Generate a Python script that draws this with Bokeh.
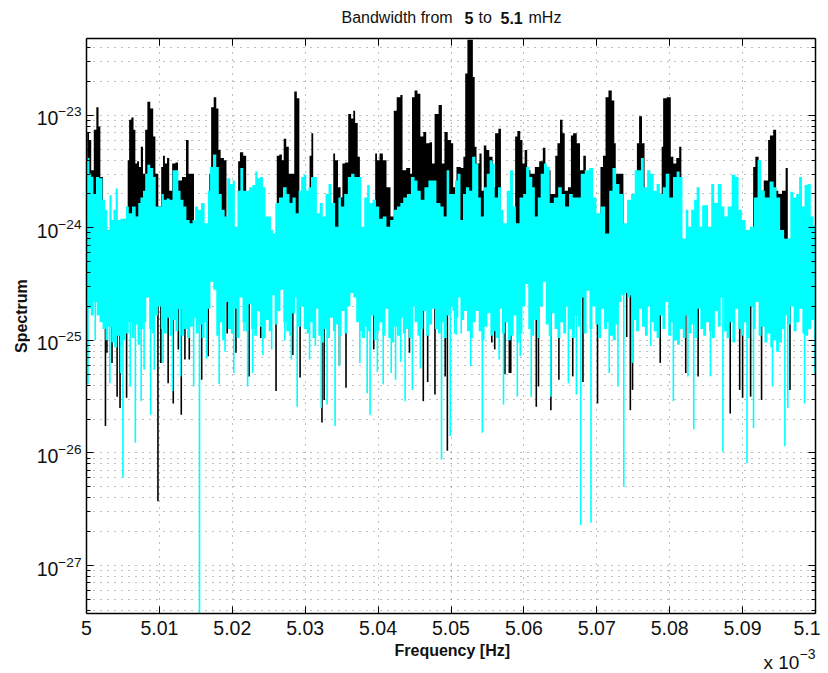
import numpy as np
from bokeh.plotting import figure
from bokeh.embed import file_html
from bokeh.layouts import column, row
from bokeh.resources import INLINE
from bokeh.models import FixedTicker, LinearAxis, LogTickFormatter, Label, Range1d, CustomJSTickFormatter

x_ticks = [5, 5.01, 5.02, 5.03, 5.04, 5.05, 5.06, 5.07, 5.08, 5.09, 5.1]
x_tick_labels = ["5", "5.01", "5.02", "5.03", "5.04", "5.05", "5.06", "5.07", "5.08", "5.09", "5.1"]
y_decades = [1e-27, 1e-26, 1e-25, 1e-24, 1e-23]
y_limits = [3.75e-28, 4.8e-23]

# Upper envelope of the black spectrum: offset frequency above 5 and log10(value)
black_top_df = [.0000,.0002,.0005,.0008,.0012,.0015,.0018,.0020,.0025,.0056,.0057,.0060,.0063,.0066,.0068,.0071,.0073,.0076,.0079,.0082,.0085,.0090,.0093,.0096,.0101,.0104,.0106,.0109,.0112,.0115,.0120,.0124,.0127,.0135,.0138,.0142,.0147,.0148,.0168,.0169,.0173,.0176,.0180,.0182,.0186,.0191,.0193,.0207,.0209,.0212,.0218,.0220,.0260,.0262,.0267,.0269,.0272,.0276,.0279,.0284,.0286,.0291,.0293,.0305,.0307,.0310,.0312,.0338,.0339,.0343,.0347,.0350,.0352,.0357,.0361,.0365,.0367,.0370,.0374,.0376,.0395,.0397,.0400,.0404,.0409,.0414,.0420,.0423,.0428,.0433,.0434,.0443,.0445,.0448,.0452,.0456,.0460,.0464,.0468,.0473,.0475,.0480,.0486,.0489,.0493,.0498,.0502,.0504,.0511,.0516,.0518,.0521,.0524,.0528,.0532,.0533,.0537,.0541,.0543,.0547,.0550,.0555,.0559,.0562,.0568,.0569,.0587,.0589,.0593,.0597,.0599,.0603,.0606,.0612,.0618,.0624,.0628,.0631,.0642,.0644,.0648,.0651,.0655,.0657,.0664,.0665,.0670,.0675,.0679,.0684,.0686,.0703,.0707,.0710,.0714,.0718,.0723,.0725,.0727,.0735,.0738,.0754,.0756,.0760,.0764,.0767,.0788,.0790,.0792,.0800,.0803,.0807,.0811,.0815,.0817,.0914,.0915,.0920,.0924,.0934,.0936,.0939,.0945,.0947,.0951,.0957,.0961,.0963,.1000]
black_top_log = [-23.43,-23.15,-23.22,-23.49,-23.13,-22.93,-23.10,-23.55,-24.30,-24.30,-23.40,-23.04,-23.02,-23.13,-23.43,-23.41,-23.46,-23.28,-23.52,-23.13,-22.88,-22.94,-23.19,-23.52,-23.81,-23.46,-23.36,-23.43,-23.38,-23.67,-23.43,-23.42,-23.58,-23.55,-23.22,-23.52,-23.52,-24.30,-24.30,-23.52,-22.93,-22.84,-22.94,-23.31,-23.38,-23.40,-24.30,-24.30,-23.41,-23.33,-23.36,-24.30,-24.30,-23.36,-23.35,-23.40,-23.21,-23.28,-23.52,-23.52,-22.79,-22.85,-24.30,-24.30,-23.36,-23.16,-24.30,-24.30,-23.34,-23.40,-23.64,-23.73,-23.43,-23.42,-22.99,-23.03,-22.96,-23.07,-23.37,-24.30,-24.30,-23.34,-23.40,-23.34,-23.40,-23.64,-23.90,-22.96,-22.84,-22.82,-23.49,-23.47,-23.52,-22.84,-22.78,-22.81,-23.19,-23.15,-23.25,-23.24,-23.43,-22.99,-22.91,-23.43,-23.15,-23.22,-23.25,-23.64,-23.46,-23.47,-23.37,-22.63,-22.33,-22.33,-22.66,-23.28,-23.43,-23.34,-23.67,-23.27,-23.31,-23.37,-23.64,-23.16,-23.12,-24.30,-24.30,-23.19,-23.14,-23.22,-23.43,-23.31,-23.49,-23.52,-23.46,-23.41,-23.29,-23.49,-23.70,-23.36,-23.25,-23.04,-23.16,-23.67,-23.64,-23.18,-23.16,-23.25,-23.49,-23.36,-24.30,-24.30,-23.46,-23.36,-22.84,-22.78,-22.87,-23.25,-23.52,-23.52,-24.30,-24.30,-23.25,-23.01,-23.25,-24.30,-24.30,-23.28,-22.85,-22.84,-23.37,-23.43,-23.38,-23.28,-24.30,-24.30,-23.46,-23.37,-23.67,-23.58,-23.22,-23.18,-23.13,-23.67,-23.70,-23.67,-23.47,-24.14,-24.14]

# Upper envelope of the cyan spectrum
cyan_top_df = [.0000,.0003,.0005,.0008,.0011,.0015,.0020,.0024,.0027,.0030,.0033,.0036,.0038,.0042,.0044,.0049,.0052,.0056,.0060,.0065,.0070,.0072,.0076,.0079,.0082,.0085,.0090,.0093,.0097,.0102,.0104,.0108,.0112,.0116,.0120,.0125,.0127,.0131,.0135,.0139,.0144,.0147,.0151,.0155,.0159,.0165,.0168,.0171,.0176,.0180,.0183,.0188,.0191,.0195,.0199,.0202,.0205,.0209,.0213,.0217,.0221,.0225,.0230,.0233,.0236,.0240,.0244,.0247,.0251,.0255,.0257,.0261,.0267,.0272,.0277,.0280,.0285,.0289,.0293,.0296,.0300,.0303,.0306,.0310,.0314,.0318,.0322,.0326,.0330,.0334,.0338,.0344,.0347,.0351,.0356,.0361,.0365,.0370,.0375,.0379,.0383,.0387,.0390,.0395,.0399,.0404,.0409,.0414,.0419,.0423,.0429,.0432,.0437,.0442,.0448,.0452,.0456,.0461,.0466,.0472,.0477,.0483,.0488,.0492,.0496,.0499,.0504,.0507,.0511,.0515,.0518,.0523,.0527,.0531,.0536,.0539,.0543,.0547,.0551,.0555,.0558,.0562,.0567,.0570,.0574,.0579,.0583,.0587,.0591,.0597,.0601,.0605,.0610,.0613,.0617,.0621,.0625,.0630,.0633,.0638,.0644,.0650,.0654,.0659,.0665,.0669,.0675,.0681,.0686,.0693,.0697,.0702,.0708,.0715,.0719,.0724,.0729,.0733,.0739,.0744,.0750,.0754,.0759,.0762,.0767,.0771,.0776,.0780,.0784,.0789,.0792,.0797,.0802,.0807,.0812,.0815,.0820,.0824,.0827,.0832,.0835,.0839,.0843,.0846,.0850,.0855,.0859,.0863,.0869,.0873,.0877,.0882,.0888,.0892,.0897,.0901,.0907,.0913,.0918,.0923,.0928,.0933,.0941,.0944,.0949,.0954,.0960,.0964,.0967,.0972,.0975,.0980,.0983,.0987,.0992,.0995,.1000]
cyan_top_log = [-23.40,-23.38,-23.52,-23.55,-23.70,-23.55,-23.56,-23.75,-23.84,-24.02,-23.71,-23.93,-23.84,-23.65,-23.93,-23.92,-23.92,-23.81,-23.87,-23.81,-23.90,-23.78,-23.73,-23.67,-23.52,-23.44,-23.47,-23.55,-23.81,-23.81,-23.70,-23.75,-23.74,-23.75,-23.49,-23.49,-23.67,-23.75,-23.81,-23.93,-23.96,-23.93,-23.81,-23.84,-23.78,-23.96,-23.67,-23.46,-23.35,-23.46,-23.70,-23.84,-23.90,-23.56,-23.61,-23.58,-23.99,-23.67,-23.47,-23.67,-23.67,-23.64,-23.62,-23.50,-23.56,-23.55,-23.64,-23.90,-23.90,-24.02,-24.05,-23.78,-23.73,-23.64,-23.70,-23.78,-23.73,-23.87,-23.67,-23.55,-23.53,-23.67,-23.64,-23.55,-23.55,-23.87,-23.78,-23.90,-23.70,-23.61,-23.78,-23.99,-23.73,-23.81,-23.70,-23.55,-23.52,-23.55,-23.55,-23.99,-23.73,-23.62,-23.78,-23.75,-23.81,-23.92,-23.90,-23.99,-23.93,-23.84,-23.81,-23.78,-23.73,-23.70,-23.55,-23.58,-23.67,-23.75,-23.64,-23.58,-23.58,-23.78,-23.81,-23.90,-23.49,-23.70,-23.70,-23.58,-23.52,-23.93,-23.70,-23.64,-23.67,-23.37,-23.43,-23.73,-23.90,-23.64,-23.52,-23.40,-23.43,-23.73,-23.64,-23.84,-23.96,-23.67,-23.49,-23.81,-23.96,-23.73,-23.70,-23.46,-23.55,-23.64,-23.90,-23.73,-23.52,-23.43,-23.46,-23.78,-23.73,-23.64,-23.70,-23.81,-23.70,-23.73,-23.73,-23.52,-23.49,-23.47,-23.73,-23.87,-23.81,-24.05,-23.67,-23.47,-23.61,-23.70,-23.96,-23.75,-23.70,-23.49,-23.49,-23.38,-23.64,-23.49,-23.52,-23.67,-23.61,-23.70,-23.64,-23.52,-23.73,-23.55,-23.50,-23.55,-24.11,-23.84,-23.99,-23.84,-23.75,-23.64,-23.99,-23.80,-23.80,-23.99,-23.61,-23.78,-23.61,-23.81,-23.90,-23.81,-23.53,-23.55,-23.84,-23.93,-24.02,-23.99,-23.73,-23.40,-23.67,-23.73,-23.59,-23.64,-23.73,-24.02,-24.14,-24.23,-23.68,-23.73,-23.70,-23.55,-23.81,-23.62,-23.61,-23.90,-23.98]

# Lower edge of the solid cyan mass
cyan_low_df = [.0000,.0004,.0008,.0012,.0016,.0020,.0024,.0028,.0032,.0036,.0040,.0044,.0048,.0052,.0056,.0060,.0064,.0068,.0072,.0076,.0080,.0084,.0088,.0092,.0096,.0100,.0104,.0108,.0112,.0116,.0120,.0124,.0128,.0132,.0136,.0140,.0144,.0148,.0152,.0156,.0160,.0164,.0168,.0172,.0176,.0180,.0184,.0188,.0192,.0196,.0200,.0204,.0208,.0212,.0216,.0220,.0224,.0228,.0232,.0236,.0240,.0244,.0248,.0252,.0256,.0260,.0264,.0268,.0272,.0276,.0280,.0284,.0288,.0292,.0296,.0300,.0304,.0308,.0312,.0316,.0320,.0324,.0328,.0332,.0336,.0340,.0344,.0348,.0352,.0356,.0360,.0364,.0368,.0372,.0376,.0380,.0384,.0388,.0392,.0396,.0400,.0404,.0408,.0412,.0416,.0420,.0424,.0428,.0432,.0436,.0440,.0444,.0448,.0452,.0456,.0460,.0464,.0468,.0472,.0476,.0480,.0484,.0488,.0492,.0496,.0500,.0504,.0508,.0512,.0516,.0520,.0524,.0528,.0532,.0536,.0540,.0544,.0548,.0552,.0556,.0560,.0564,.0568,.0572,.0576,.0580,.0584,.0588,.0592,.0596,.0600,.0604,.0608,.0612,.0616,.0620,.0624,.0628,.0632,.0636,.0640,.0644,.0648,.0652,.0656,.0660,.0664,.0668,.0672,.0676,.0680,.0684,.0688,.0692,.0696,.0700,.0704,.0708,.0712,.0716,.0720,.0724,.0728,.0732,.0736,.0740,.0744,.0748,.0752,.0756,.0760,.0764,.0768,.0772,.0776,.0780,.0784,.0788,.0792,.0796,.0800,.0804,.0808,.0812,.0816,.0820,.0824,.0828,.0832,.0836,.0840,.0844,.0848,.0852,.0856,.0860,.0864,.0868,.0872,.0876,.0880,.0884,.0888,.0892,.0896,.0900,.0904,.0908,.0912,.0916,.0920,.0924,.0928,.0932,.0936,.0940,.0944,.0948,.0952,.0956,.0960,.0964,.0968,.0972,.0976,.0980,.0984,.0988,.0992,.0996,.1000]
cyan_low_log = [-25.00,-24.72,-24.78,-24.66,-24.78,-24.84,-24.90,-25.00,-24.88,-25.02,-25.06,-24.96,-25.04,-25.00,-24.94,-24.84,-24.98,-24.86,-25.04,-24.90,-24.84,-24.62,-24.90,-24.94,-24.78,-24.70,-24.90,-24.94,-24.80,-24.96,-24.82,-24.92,-24.72,-24.96,-24.90,-24.98,-24.88,-24.80,-24.94,-24.86,-24.98,-24.84,-24.72,-24.48,-24.55,-24.96,-24.84,-25.00,-24.66,-24.90,-24.94,-24.72,-24.98,-24.62,-24.84,-24.92,-24.68,-24.90,-24.96,-24.74,-24.88,-24.98,-24.82,-24.92,-24.60,-24.86,-24.74,-24.55,-24.84,-24.92,-24.96,-24.76,-24.62,-24.88,-24.70,-24.90,-24.94,-24.84,-24.98,-24.72,-24.96,-25.02,-24.90,-24.98,-24.80,-24.92,-24.86,-24.96,-24.74,-24.94,-24.70,-24.58,-24.62,-24.84,-24.92,-24.98,-24.88,-24.92,-24.78,-25.00,-24.92,-24.84,-24.96,-24.72,-24.98,-25.02,-24.88,-24.96,-24.80,-24.94,-24.90,-24.98,-24.70,-24.84,-24.96,-24.90,-24.74,-24.96,-24.86,-24.72,-24.90,-24.94,-24.84,-24.98,-24.78,-24.70,-24.74,-24.80,-24.62,-24.82,-24.74,-24.92,-24.98,-24.84,-24.74,-24.92,-25.00,-24.88,-24.76,-24.96,-24.92,-24.98,-24.72,-24.94,-24.84,-25.00,-24.96,-24.78,-25.02,-24.94,-24.70,-24.50,-24.90,-24.96,-24.82,-24.98,-24.70,-24.48,-24.86,-24.96,-24.76,-24.90,-24.98,-24.84,-24.94,-24.70,-24.90,-24.98,-24.78,-24.88,-24.62,-24.94,-24.56,-24.90,-24.70,-24.86,-24.98,-24.72,-24.90,-24.84,-24.96,-25.00,-24.86,-24.66,-24.60,-24.58,-24.62,-24.60,-24.82,-24.92,-24.72,-24.88,-24.96,-24.70,-24.84,-24.92,-24.98,-24.78,-24.90,-24.66,-24.96,-24.84,-25.00,-25.04,-24.90,-24.98,-24.78,-24.94,-24.86,-24.98,-24.72,-24.90,-24.96,-24.84,-24.92,-24.98,-24.74,-24.88,-24.62,-24.92,-24.98,-24.84,-25.02,-24.72,-24.90,-24.96,-24.84,-24.98,-24.70,-24.90,-24.66,-24.96,-24.88,-25.02,-24.94,-25.06,-25.00,-25.10,-25.02,-24.90,-24.78,-24.86,-24.70,-24.92,-24.84,-24.72,-24.94,-24.96,-24.90,-24.82,-25.20]

# Downward spikes of each spectrum
cyan_spike_df = [.0002,.0012,.0032,.0050,.0047,.0060,.0067,.0075,.0079,.0088,.0093,.0105,.0118,.0129,.0147,.0155,.0165,.0182,.0190,.0202,.0216,.0221,.0228,.0242,.0254,.0272,.0281,.0289,.0306,.0314,.0322,.0330,.0341,.0347,.0375,.0385,.0389,.0399,.0407,.0418,.0424,.0431,.0437,.0447,.0458,.0487,.0499,.0507,.0505,.0514,.0527,.0543,.0566,.0572,.0591,.0595,.0610,.0637,.0661,.0672,.0678,.0692,.0717,.0729,.0737,.0749,.0774,.0805,.0825,.0833,.0856,.0873,.0906,.0915,.0941,.0958,.0962,.0985,.0999]
cyan_spike_log = [-25.39,-25.00,-25.38,-26.22,-25.29,-25.41,-25.91,-25.54,-25.26,-25.66,-25.26,-25.20,-25.45,-25.32,-25.41,-27.60,-25.16,-25.39,-25.10,-25.29,-24.92,-25.41,-25.29,-25.13,-25.08,-25.00,-25.17,-25.59,-25.17,-25.05,-25.60,-25.57,-25.76,-25.23,-25.20,-25.47,-25.66,-25.28,-25.39,-25.29,-25.35,-25.19,-25.54,-25.44,-25.25,-26.06,-25.85,-24.95,-24.94,-24.94,-25.23,-25.82,-25.17,-25.57,-25.50,-25.14,-25.50,-25.50,-25.38,-25.48,-26.64,-26.62,-25.29,-25.41,-26.30,-25.20,-25.05,-25.54,-25.32,-25.79,-25.32,-25.99,-26.09,-25.78,-25.41,-25.94,-25.60,-25.56,-25.29]
black_spike_df = [.0026,.0028,.0035,.0042,.0046,.0055,.0098,.0102,.0112,.0119,.0126,.0130,.0135,.0141,.0158,.0167,.0193,.0205,.0223,.0239,.0260,.0283,.0293,.0323,.0326,.0356,.0347,.0394,.0443,.0462,.0468,.0478,.0492,.0495,.0546,.0556,.0560,.0574,.0580,.0582,.0617,.0620,.0637,.0648,.0667,.0681,.0701,.0741,.0746,.0749,.0787,.0822,.0839,.0883,.0896,.0900,.0911,.0926,.0965]
black_spike_log = [-25.76,-25.11,-25.20,-25.50,-25.60,-25.51,-26.43,-25.20,-25.38,-25.56,-25.08,-25.66,-25.17,-25.17,-25.35,-25.14,-24.94,-25.11,-25.32,-24.98,-25.45,-25.13,-25.33,-25.73,-25.53,-25.42,-25.22,-25.08,-25.11,-25.54,-25.37,-25.48,-25.32,-25.98,-24.77,-25.02,-25.08,-25.30,-25.29,-25.29,-25.59,-25.41,-25.62,-25.35,-25.32,-25.37,-25.56,-24.97,-25.62,-25.44,-25.20,-25.29,-25.32,-25.65,-25.44,-25.51,-25.50,-25.53,-25.44]

F0 = 5.0
MID_HI = 8e-25
MID_LO = 3.5e-25
FONT = "Liberation Sans"
BLACK, CYAN = "#000000", "#00ffff"
TEXT = "#111111"

def freq(d):
    return F0 + np.array(d)

def mag(e):
    return 10.0 ** np.array(e)

p = figure(width=790, height=611, frame_width=729, frame_height=575,
           min_border_left=56, min_border_right=5, min_border_top=8, min_border_bottom=28,
           x_range=Range1d(5, 5.1), y_range=Range1d(*y_limits), y_axis_type="log",
           output_backend="svg", toolbar_location=None, outline_line_color=None)
p.background_fill_color = "white"

minor = [m * d for d in [1e-28] + y_decades for m in range(2, 10)]
yticker = FixedTicker(ticks=y_decades, minor_ticks=minor)
xticker = FixedTicker(ticks=x_ticks)

for g, tk in ((p.xgrid, xticker), (p.ygrid, yticker)):
    g.ticker = tk
    g.grid_line_color = "#000000"
    g.grid_line_dash = "1 6"
    g.grid_line_width = 1
    g.grid_line_alpha = 0.5
p.ygrid.minor_grid_line_color = "#000000"
p.ygrid.minor_grid_line_dash = "1 6"
p.ygrid.minor_grid_line_alpha = 0.5

# black spectrum
bf = freq(black_top_df)
p.segment(freq(black_spike_df), mag(black_spike_log), freq(black_spike_df), [MID_HI] * len(black_spike_df),
          line_color=BLACK, line_width=1.6)
p.varea_step(bf, [MID_LO] * len(bf), mag(black_top_log), step_mode="center", fill_color=BLACK)

# cyan spectrum
cf = freq(cyan_top_df)
lf = freq(cyan_low_df)
p.segment(freq(cyan_spike_df), mag(cyan_spike_log), freq(cyan_spike_df), [MID_HI] * len(cyan_spike_df),
          line_color=CYAN, line_width=1.6)
p.varea_step(cf, [MID_LO] * len(cf), mag(cyan_top_log), step_mode="center", fill_color=CYAN)
p.varea_step(lf, mag(cyan_low_log), [MID_HI] * len(lf), step_mode="center", fill_color=CYAN)

def style(ax, labels):
    ax.axis_line_color = "#000000"
    ax.axis_line_width = 1.5
    ax.major_tick_line_color = "#000000"
    ax.minor_tick_line_color = "#000000"
    ax.major_tick_in = 7
    ax.major_tick_out = 0
    ax.minor_tick_in = 4
    ax.minor_tick_out = 0
    ax.major_label_text_font = FONT
    ax.major_label_text_font_size = "19.5px"
    ax.major_label_text_color = TEXT
    if not labels:
        ax.major_label_standoff = 0
        ax.formatter = CustomJSTickFormatter(code="return ''")

ax = p.xaxis[0]
ax.ticker = xticker
ax.major_label_overrides = {t: s for t, s in zip(x_ticks, x_tick_labels)}
style(ax, True)
ax.major_label_standoff = 7
ay = p.yaxis[0]
ay.ticker = yticker
ay.formatter = LogTickFormatter()
style(ay, True)
ay.major_label_standoff = 5

top = LinearAxis(ticker=xticker)
style(top, False)
p.add_layout(top, "above")
right = LinearAxis(ticker=yticker)
style(right, False)
p.add_layout(right, "right")

def strip(w, h):
    s = figure(width=w, height=h, x_range=Range1d(0, w), y_range=Range1d(0, h),
               min_border=0, x_axis_location=None, y_axis_location=None,
               output_backend="svg", toolbar_location=None, outline_line_color=None)
    s.grid.visible = False
    return s

def label(s, x, y, text, size, bold=False, angle=0.0, align="left"):
    s.add_layout(Label(x=x, y=y, text=text, text_font=FONT, text_font_size=size, text_color=TEXT,
                       text_font_style="bold" if bold else "normal",
                       text_align=align, text_baseline="alphabetic", angle=angle))

title = strip(820, 30)
label(title, 341, 13, "Bandwidth from", "16px")
label(title, 464, 13, "5", "16px", True)
label(title, 478, 13, "to", "16px")
label(title, 500, 13, "5.1", "16px", True)
label(title, 528, 13, "mHz", "16px")

side = strip(30, 611)
label(side, 21, 316, "Spectrum", "16px", True, angle=np.pi / 2, align="center")

foot = strip(820, 31)
label(foot, 394, 22, "Frequency [Hz]", "16px", True)
label(foot, 763, 10, "x 10", "19px")
label(foot, 799, 19, "\u22123", "14px")

page = column(title, row(side, p), foot)
open("out.html", "w").write(file_html(page, INLINE))
